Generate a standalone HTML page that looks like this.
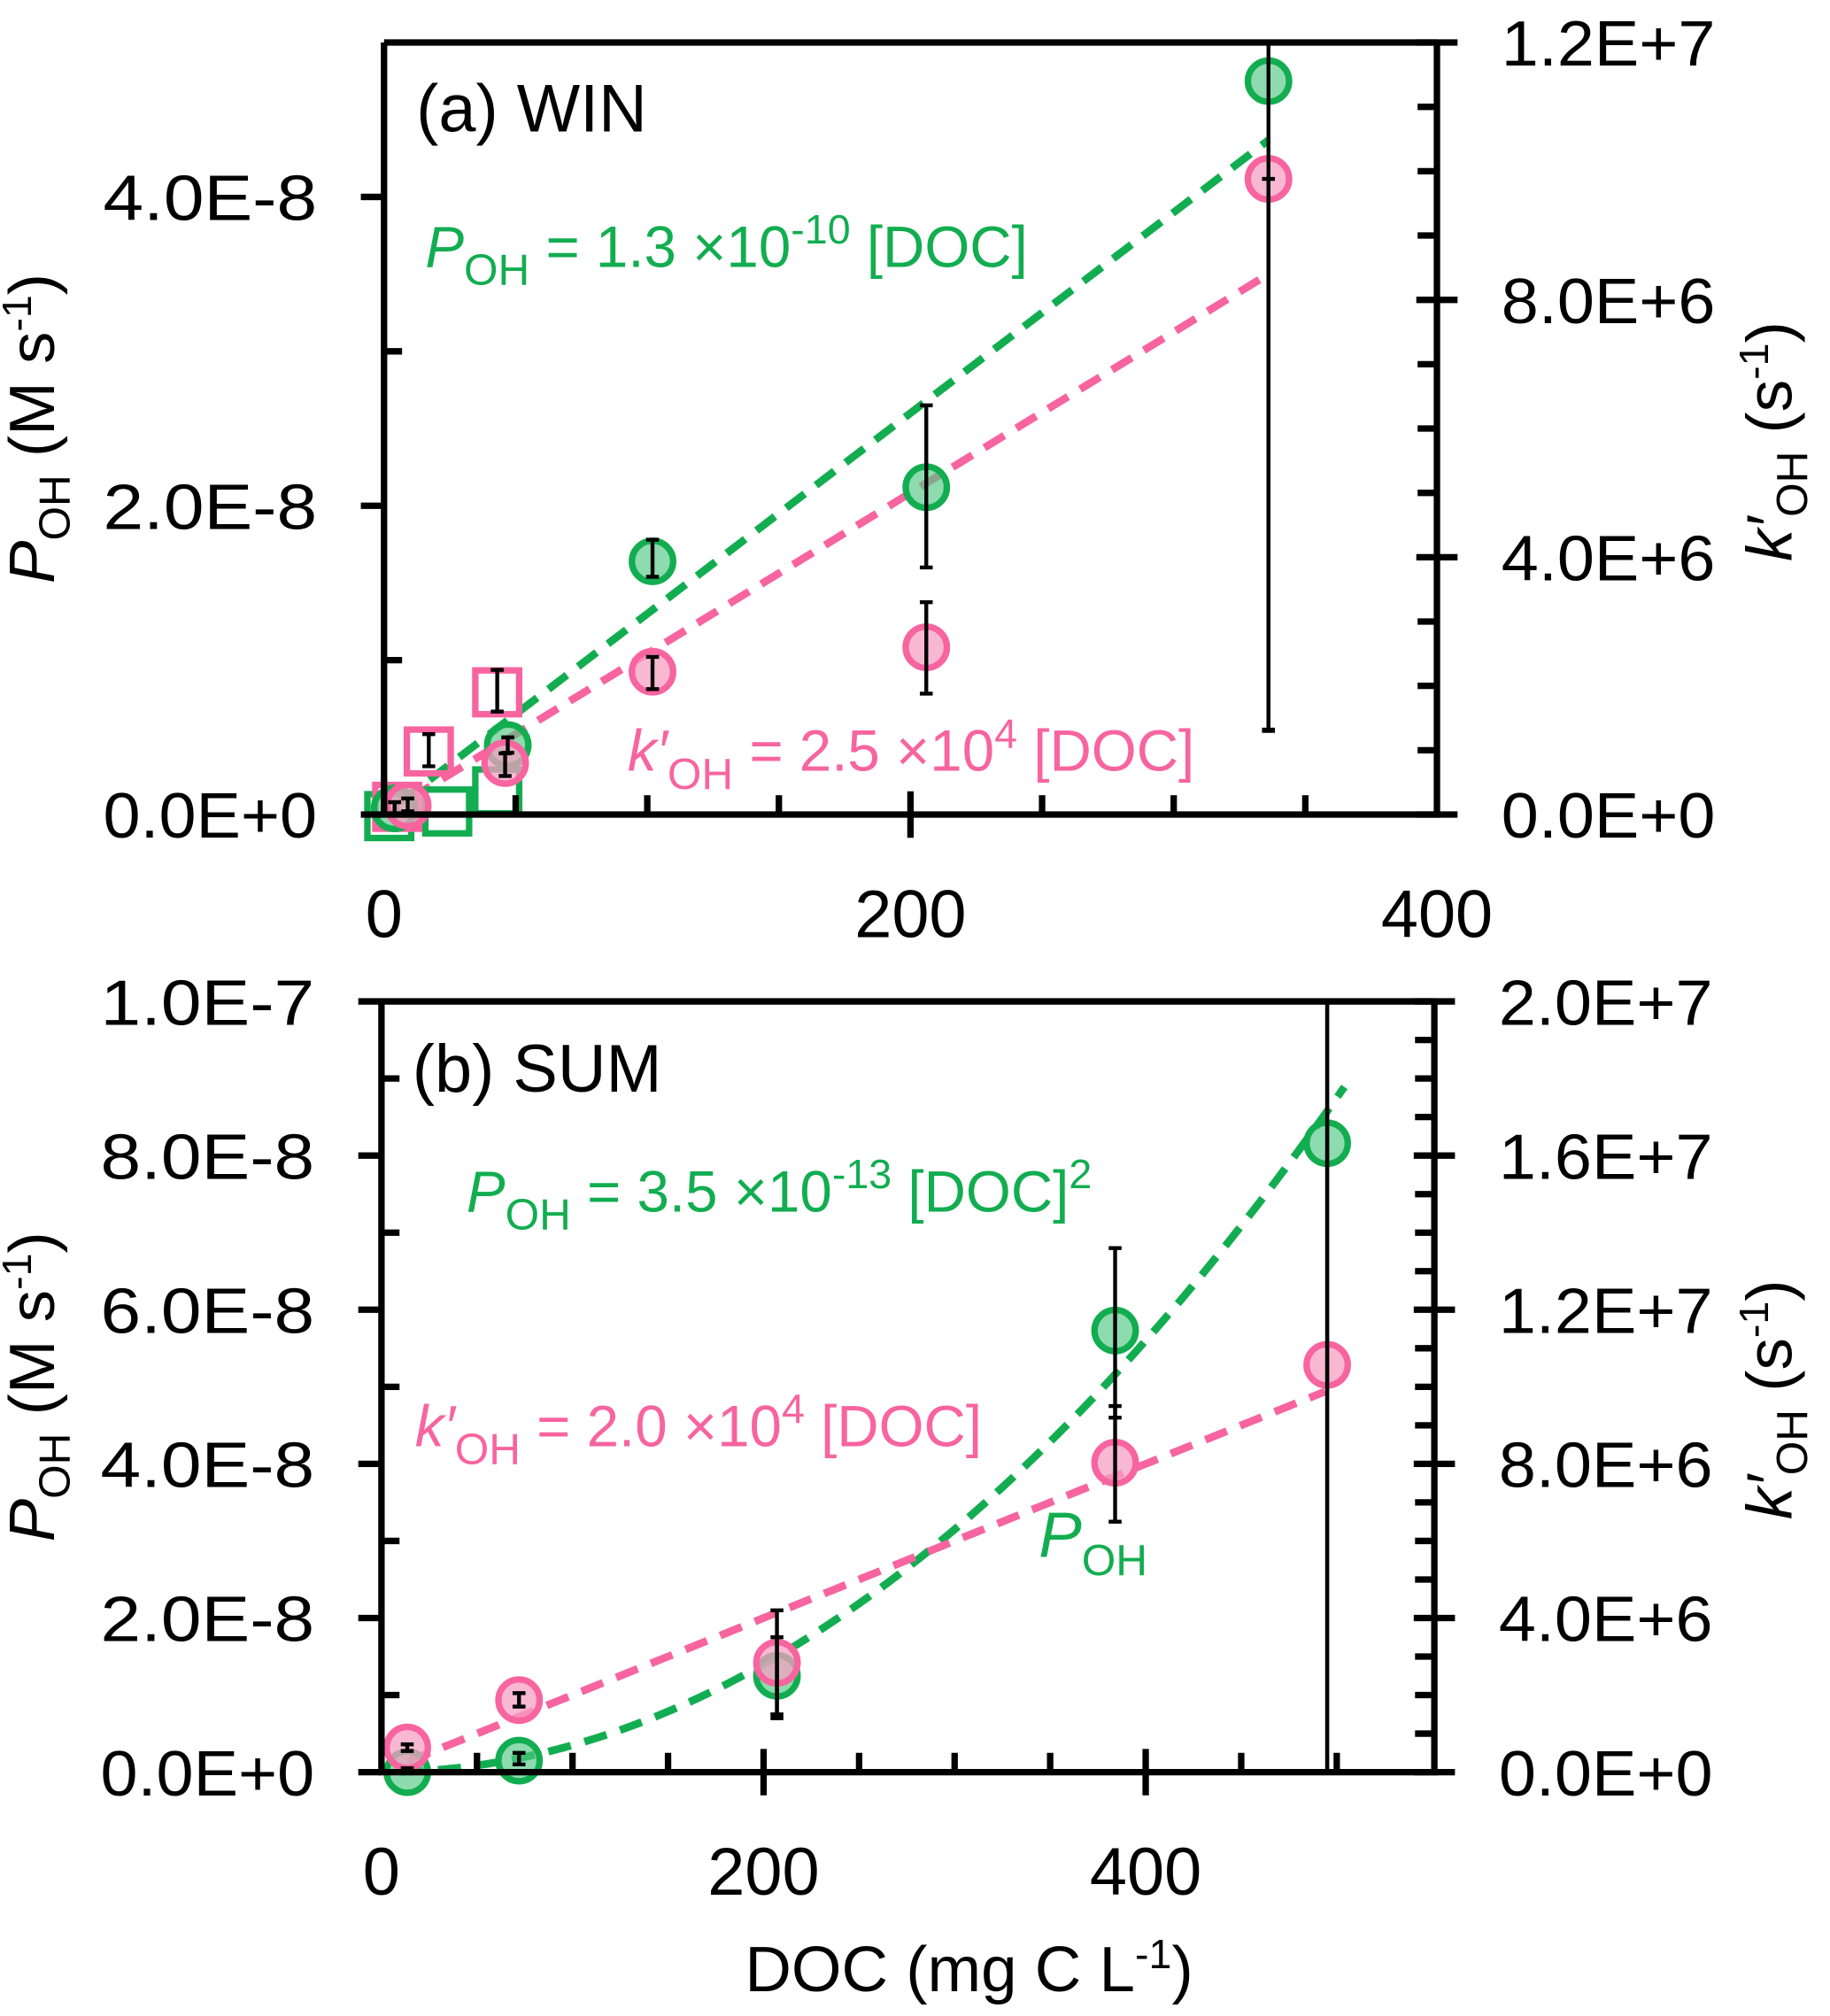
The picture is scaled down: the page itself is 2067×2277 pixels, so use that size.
<!DOCTYPE html>
<html><head><meta charset="utf-8"><style>
html,body{margin:0;padding:0;background:#fff}
svg{display:block}
text{font-family:"Liberation Sans",sans-serif}
</style></head><body>
<svg id="chart" width="2067" height="2277" viewBox="0 0 1420 1564.2" preserveAspectRatio="none" xmlns="http://www.w3.org/2000/svg">
<g id="root"></g>
</svg>
<script>
// ---- Panel (a) WIN data ----
const aDocP = [4, 47, 102, 206, 336];
const aP = [0.04e-8, 0.45e-8, 1.64e-8, 2.12e-8, 4.75e-8];
const aPErrLo = [0.0e-8, 0.4e-8, 1.54e-8, 1.6e-8, 0.55e-8];
const aPErrHi = [0.08e-8, 0.5e-8, 1.78e-8, 2.65e-8, 5.0e-8];
const aDocK = [9, 46, 102, 206, 336];
const aK = [0.14e6, 0.8e6, 2.22e6, 2.6e6, 9.88e6];
const aKErrLo = [0.05e6, 0.6e6, 1.95e6, 1.88e6, 1.3e6];
const aKErrHi = [0.25e6, 0.95e6, 2.45e6, 3.3e6, 9.88e6];
const aSqDocK = [5, 17, 43];
const aSqK = [0.12e6, 0.98e6, 1.9e6];
const aSqKErrLo = [0.05e6, 0.75e6, 1.6e6];
const aSqKErrHi = [0.2e6, 1.25e6, 2.25e6];
const aSqDocP = [2, 24, 43];
const aSqP = [-0.01e-8, 0.02e-8, 0.15e-8];
const aFitP = 1.3e-10, aFitK = 2.5e4;
const aXTicks = [0, 200, 400];
const aYTicks = ["0.0E+0", "2.0E-8", "4.0E-8"];
const aYTickVals = [0, 2e-8, 4e-8];
const aRTicks = ["0.0E+0", "4.0E+6", "8.0E+6", "1.2E+7"];
const aRTickVals = [0, 4e6, 8e6, 1.2e7];
// ---- Panel (b) SUM data ----
const bDocP = [13.5, 72, 207, 384, 495];
const bP = [0.0, 0.15e-8, 1.25e-8, 5.73e-8, 8.16e-8];
const bPErrLo = [0.0, 0.1e-8, 0.7e-8, 4.6e-8, 0];
const bPErrHi = [0.05e-8, 0.25e-8, 2.1e-8, 6.8e-8, 1e-7];
const bDocK = [13.5, 72, 207, 384, 495];
const bK = [0.64e6, 1.87e6, 2.84e6, 8.03e6, 10.57e6];
const bKErrLo = [0.55e6, 1.7e6, 1.5e6, 6.5e6, 0];
const bKErrHi = [0.72e6, 2.05e6, 3.5e6, 9.5e6, 2e7];
const bFitP = 3.5e-13, bFitK = 2.0e4;
const bXTicks = [0, 200, 400];
const bYTicks = ["0.0E+0", "2.0E-8", "4.0E-8", "6.0E-8", "8.0E-8", "1.0E-7"];
const bYTickVals = [0, 2e-8, 4e-8, 6e-8, 8e-8, 1e-7];
const bRTicks = ["0.0E+0", "4.0E+6", "8.0E+6", "1.2E+7", "1.6E+7", "2.0E+7"];
const bRTickVals = [0, 4e6, 8e6, 1.2e7, 1.6e7, 2e7];

const NS = "http://www.w3.org/2000/svg";
const root = document.getElementById('root');
const GREEN = "#12ad50", GFILL = "rgba(80,200,130,0.65)", PINK = "#f7649f", PFILL = "rgba(245,160,195,0.75)";
function mk(tag, attrs, parent) {
  const e = document.createElementNS(NS, tag);
  for (const k in attrs) e.setAttribute(k, attrs[k]);
  (parent || root).appendChild(e);
  return e;
}

function panel(cfg) {
  const g = mk('g', {});
  
  
  const X = v => cfg.L + (v - 0) / cfg.xMax * (cfg.xEndPx - cfg.L);
  const YL = v => cfg.B - v / cfg.yMax * (cfg.B - cfg.T);
  const YR = v => cfg.B - v / cfg.rMax * (cfg.B - cfg.T);
  const fp = [];
  for (let d = cfg.fitPStart; d <= cfg.fitPEnd; d += 2) fp.push(X(d) + ',' + YL(cfg.fitP(d)));
  const l1 = mk('polyline', {points: fp.join(' '), fill: 'none', stroke: GREEN, 'stroke-width': 6, 'stroke-dasharray': '18 11'}, g);
  
  
  const kp = [];
  for (let d = cfg.fitKStart; d <= cfg.fitKEnd; d += 2) kp.push(X(d) + ',' + YR(cfg.fitK(d)));
  const l2 = mk('polyline', {points: kp.join(' '), fill: 'none', stroke: PINK, 'stroke-width': 6, 'stroke-dasharray': '18 11'}, g);
  
  
  (cfg.sqP || []).forEach((v, i) => {
    const x = X(cfg.sqDocP[i]), y = YL(v);
    const r = mk('rect', {x: x - 17, y: y - 17, width: 34, height: 34, fill: 'none', stroke: GREEN, 'stroke-width': 5}, g);
    
    
  });
  (cfg.sqK || []).forEach((v, i) => {
    const x = X(cfg.sqDocK[i]), y = YR(v);
    const r = mk('rect', {x: x - 17, y: y - 17, width: 34, height: 34, fill: 'none', stroke: PINK, 'stroke-width': 5}, g);
    
    
    const e = mk('path', {d: `M${x} ${YR(cfg.sqKLo[i])}V${YR(cfg.sqKHi[i])}M${x-5} ${YR(cfg.sqKLo[i])}h10M${x-5} ${YR(cfg.sqKHi[i])}h10`, stroke: '#000', 'stroke-width': 3}, g);
    
    
  });
  cfg.P.forEach((v, i) => {
    const x = X(cfg.docP[i]), y = YL(v);
    const c = mk('circle', {cx: x, cy: y, r: 16, fill: GFILL, stroke: GREEN, 'stroke-width': 5}, g);
    
    
  });
  cfg.K.forEach((v, i) => {
    const x = X(cfg.docK[i]), y = YR(v);
    const c = mk('circle', {cx: x, cy: y, r: 16, fill: PFILL, stroke: PINK, 'stroke-width': 5}, g);
    
    
  });
  cfg.P.forEach((v, i) => {
    const x = X(cfg.docP[i]);
    const lo = Math.min(YL(cfg.PLo[i]), cfg.B), hi = Math.max(YL(cfg.PHi[i]), cfg.T);
    const e = mk('path', {d: `M${x} ${lo}V${hi}M${x-5} ${lo}h10M${x-5} ${hi}h10`, stroke: '#000', 'stroke-width': 3}, g);
    
    
  });
  cfg.K.forEach((v, i) => {
    const x = X(cfg.docK[i]);
    const lo = Math.min(YR(cfg.KLo[i]), cfg.B), hi = Math.max(YR(cfg.KHi[i]), cfg.T);
    const e = mk('path', {d: `M${x} ${lo}V${hi}M${x-5} ${lo}h10M${x-5} ${hi}h10`, stroke: '#000', 'stroke-width': 3}, g);
    
    
  });
  const ax = mk('path', {d: `M${cfg.L} ${cfg.T}H${cfg.R}M${cfg.L} ${cfg.T}V${cfg.B}H${cfg.R}V${cfg.T}`, fill: 'none', stroke: '#000', 'stroke-width': 5}, g);
  
  
  cfg.yVals.forEach((v, i) => {
    const y = YL(v);
    mk('line', {x1: cfg.L - 18, x2: cfg.L, y1: y, y2: y, stroke: '#000', 'stroke-width': 5}, g);
    const t = mk('text', {x: cfg.L - 52, y: y + 18, 'text-anchor': 'end', 'font-size': 50, textLength: 166, lengthAdjust: 'spacingAndGlyphs'}, g);
    t.textContent = cfg.yLabels[i];
    
    
  });
  for (let v = cfg.yMinor; v < cfg.yMax; v += cfg.yMinor * 2) {
    const y = YL(v);
    mk('line', {x1: cfg.L, x2: cfg.L + 14, y1: y, y2: y, stroke: '#000', 'stroke-width': 5}, g);
  }
  cfg.rVals.forEach((v, i) => {
    const y = YR(v);
    mk('line', {x1: cfg.R - 16, x2: cfg.R + 16, y1: y, y2: y, stroke: '#000', 'stroke-width': 5}, g);
    const t = mk('text', {x: cfg.R + 50, y: y + 18, 'text-anchor': 'start', 'font-size': 50, textLength: 166, lengthAdjust: 'spacingAndGlyphs'}, g);
    t.textContent = cfg.rLabels[i];
    
    
  });
  for (let v = 1e6; v < cfg.rMax; v += 1e6) {
    if (Math.abs((v / 4e6) - Math.round(v / 4e6)) < 1e-6) continue;
    const y = YR(v);
    mk('line', {x1: cfg.R - 15, x2: cfg.R, y1: y, y2: y, stroke: '#000', 'stroke-width': 5}, g);
  }
  cfg.xTicks.forEach(v => {
    const x = X(v);
    if (v > 0 && X(v) < cfg.R - 5) mk('line', {x1: x, x2: x, y1: cfg.B - 18, y2: cfg.B + 18, stroke: '#000', 'stroke-width': 5}, g);
    const t = mk('text', {x: x, y: cfg.B + 95, 'text-anchor': 'middle', 'font-size': 52}, g);
    t.textContent = v;
    
    
  });
  for (let v = 50; X(v) < cfg.R - 5; v += 50) {
    if (v % 200 === 0) continue;
    const x = X(v);
    mk('line', {x1: x, x2: x, y1: cfg.B - 15, y2: cfg.B, stroke: '#000', 'stroke-width': 5}, g);
  }
  const lt = mk('text', {transform: `translate(${cfg.ltX},${(cfg.T + cfg.B) / 2}) rotate(-90)`, 'text-anchor': 'middle', 'font-size': 50}, g);
  lt.innerHTML = '<tspan font-style="italic">P</tspan><tspan font-size="34" dy="12">OH</tspan><tspan dy="-12"> (M s</tspan><tspan font-size="32" dy="-18">-1</tspan><tspan dy="18">)</tspan>';
  
  
  const rt = mk('text', {transform: `translate(${cfg.rtX},${(cfg.T + cfg.B) / 2 + 10}) rotate(-90)`, 'text-anchor': 'middle', 'font-size': 50}, g);
  rt.innerHTML = '<tspan font-style="italic">k′</tspan><tspan font-size="34" dy="12">OH</tspan><tspan dy="-12"> (s</tspan><tspan font-size="32" dy="-18">-1</tspan><tspan dy="18">)</tspan>';
  
  
  return g;
}

panel({name: 'panel-a-win', L: 298, R: 1115, T: 33, B: 632, xMax: 400, xEndPx: 1115, yMax: 5e-8, rMax: 1.2e7, yMinor: 1e-8,
  docP: aDocP, P: aP, PLo: aPErrLo, PHi: aPErrHi, docK: aDocK, K: aK, KLo: aKErrLo, KHi: aKErrHi,
  sqDocP: aSqDocP, sqP: aSqP, sqDocK: aSqDocK, sqK: aSqK, sqKLo: aSqKErrLo, sqKHi: aSqKErrHi,
  fitP: d => aFitP * d, fitK: d => aFitK * d, fitPStart: 6, fitPEnd: 336, fitKStart: 10, fitKEnd: 336,
  xTicks: aXTicks, yVals: aYTickVals, yLabels: aYTicks, rVals: aRTickVals, rLabels: aRTicks, ltX: 42, rtX: 1390});
panel({name: 'panel-b-sum', L: 296, R: 1113, T: 777, B: 1375, xMax: 400, xEndPx: 889, yMax: 1e-7, rMax: 2e7, yMinor: 1e-8,
  docP: bDocP, P: bP, PLo: bPErrLo, PHi: bPErrHi, docK: bDocK, K: bK, KLo: bKErrLo, KHi: bKErrHi,
  fitP: d => bFitP * d * d, fitK: d => bFitK * d, fitPStart: 10, fitPEnd: 505, fitKStart: 14, fitKEnd: 495,
  xTicks: bXTicks, yVals: bYTickVals, yLabels: bYTicks, rVals: bRTickVals, rLabels: bRTicks, ltX: 42, rtX: 1390});

function label(x, y, html, fill, name, size) {
  const t = mk('text', {x: x, y: y, 'font-size': size || 46, fill: fill});
  t.innerHTML = html;
  
  
}
label(323, 102, '(a) WIN', '#000', 'panel-a-title', 52);
label(320, 847, '(b) SUM', '#000', 'panel-b-title', 52);
label(330, 207, '<tspan font-style="italic">P</tspan><tspan font-size="34" dy="14">OH</tspan><tspan dy="-14"> = 1.3 ×10</tspan><tspan font-size="32" dy="-18">-10</tspan><tspan dy="18"> [DOC]</tspan>', GREEN, 'panel-a-poh-equation', 45);
label(487, 598, '<tspan font-style="italic">k′</tspan><tspan font-size="34" dy="14">OH</tspan><tspan dy="-14"> = 2.5 ×10</tspan><tspan font-size="32" dy="-18">4</tspan><tspan dy="18"> [DOC]</tspan>', PINK, 'panel-a-koh-equation', 45);
label(362, 940, '<tspan font-style="italic">P</tspan><tspan font-size="34" dy="14">OH</tspan><tspan dy="-14"> = 3.5 ×10</tspan><tspan font-size="32" dy="-18">-13</tspan><tspan dy="18"> [DOC]</tspan><tspan font-size="32" dy="-18">2</tspan>', GREEN, 'panel-b-poh-equation', 45);
label(322, 1122, '<tspan font-style="italic">k′</tspan><tspan font-size="34" dy="14">OH</tspan><tspan dy="-14"> = 2.0 ×10</tspan><tspan font-size="32" dy="-18">4</tspan><tspan dy="18"> [DOC]</tspan>', PINK, 'panel-b-koh-equation', 45);
label(806, 1208, '<tspan font-style="italic">P</tspan><tspan font-size="34" dy="14">OH</tspan>', GREEN, 'panel-b-poh-label', 50);
label(578, 1545, 'DOC (mg C L<tspan font-size="32" dy="-18">-1</tspan><tspan dy="18">)</tspan>', '#000', 'x-axis-title', 50);
</script>
</body></html>
